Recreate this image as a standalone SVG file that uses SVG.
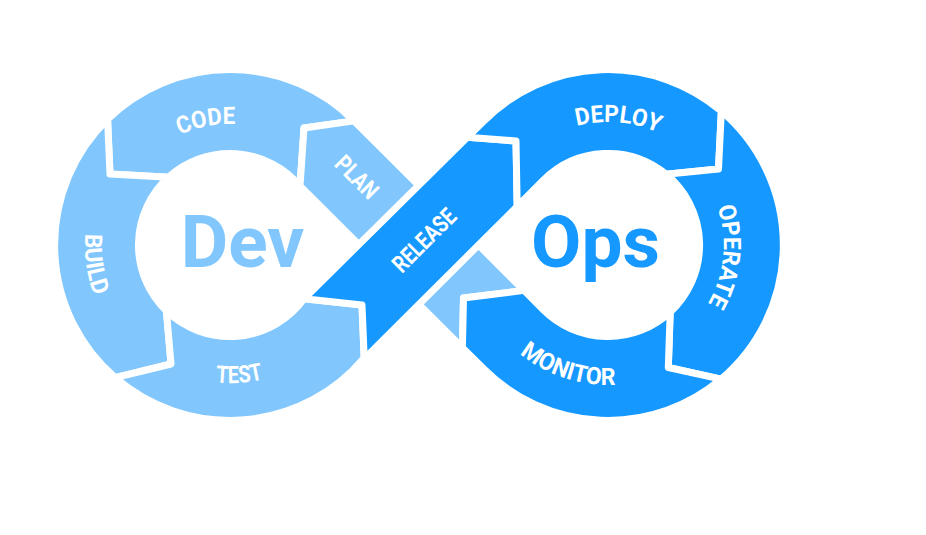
<svg xmlns="http://www.w3.org/2000/svg" xmlns:xlink="http://www.w3.org/1999/xlink" width="926" height="535" viewBox="0 0 926 535">
  <style>
    .light{fill:#81C7FD}
    .dark{fill:#1598FF}
    .seg{stroke:#FFFFFF;stroke-width:7;stroke-linejoin:round}
    .lbl{font-family:Roboto,"Liberation Sans",sans-serif;font-weight:700;font-size:24px;fill:#FFFFFF}
    .big{font-family:Roboto,"Liberation Sans",sans-serif;font-weight:700;font-size:73px}
  </style>
  <defs>
    <path id="pCode" d="M124.2,186.3 A121,121 0 0 1 306.1,151"/>
    <path id="pBuild" d="M122.2,148 A145,145 0 0 0 153.2,368"/>
    <path id="pTest" d="M130.6,341 A138.2,138.2 0 0 0 341.8,326.2"/>
    <path id="pDeploy" d="M520.6,158.5 A123,123 0 0 1 708.4,173.9"/>
    <path id="pOperate" d="M690.7,164 A115.8,115.8 0 0 1 673.4,340.5"/>
    <path id="pMonitor" d="M478.2,297.4 A140,140 0 0 0 682.2,363.7"/>
  </defs>
  <rect width="926" height="535" fill="#FFFFFF"/>

  <g id="code">
    <path class="light seg" d="M107.6,119.3 A175.5,175.5 0 0 1 354.1,120.9 L304,128 L300,186 A91.5,91.5 0 0 0 168.5,177.2 L110,174 Z"/>
    <text class="lbl" text-anchor="middle"><textPath xlink:href="#pCode" href="#pCode" startOffset="50%" textLength="57" lengthAdjust="spacingAndGlyphs">CODE</textPath></text>
  </g>
  <g id="build">
    <path class="light seg" d="M107.6,119.3 L110,174 L168.5,177.2 A91.5,91.5 0 0 0 166.4,310.8 L171,364 L115.3,377.7 A175.5,175.5 0 0 1 107.6,119.3 Z"/>
    <text class="lbl" text-anchor="middle"><textPath xlink:href="#pBuild" href="#pBuild" startOffset="50%" textLength="63" lengthAdjust="spacingAndGlyphs">BUILD</textPath></text>
  </g>
  <g id="test">
    <path class="light seg" d="M115.3,377.7 L171,364 L166.4,310.8 A91.5,91.5 0 0 0 304.1,298.7 L362,305 L364.2,358 A175.5,175.5 0 0 1 115.3,377.7 Z"/>
    <text class="lbl" text-anchor="middle"><textPath xlink:href="#pTest" href="#pTest" startOffset="50%" textLength="48" lengthAdjust="spacingAndGlyphs">TEST</textPath></text>
  </g>
  <g id="plan">
    <path class="light seg" d="M354.1,120.9 L524,290.4 L463.5,298 L462.4,347.7 L300,186 L304,128 Z"/>
    <text class="lbl" text-anchor="middle" transform="translate(357,177) rotate(45)" y="8.5" textLength="50" lengthAdjust="spacingAndGlyphs">PLAN</text>
  </g>
  <g id="release">
    <path class="dark seg" d="M364.2,358 L362,305 L304.1,298.7 L467.3,137.2 L516,141 L517.2,206.4 L354.1,369.1 A175.5,175.5 0 0 0 364.2,358 Z"/>
    <text class="lbl" text-anchor="middle" transform="translate(424,240) rotate(-45)" y="8.5" textLength="79" lengthAdjust="spacingAndGlyphs">RELEASE</text>
  </g>
  <g id="deploy">
    <path class="dark seg" d="M467.3,137.2 L483.9,120.9 A175.5,175.5 0 0 1 721.35,111.2 L718.5,169 L666.2,174.3 A91.5,91.5 0 0 0 543.3,180.3 L517.2,206.4 L516,141 Z"/>
    <text class="lbl" text-anchor="middle"><textPath xlink:href="#pDeploy" href="#pDeploy" startOffset="50%" textLength="83" lengthAdjust="spacingAndGlyphs">DEPLOY</textPath></text>
  </g>
  <g id="operate">
    <path class="dark seg" d="M721.35,111.2 A175.5,175.5 0 0 1 721,379.2 L668.3,367.5 L670.2,312.2 A91.5,91.5 0 0 0 666.2,174.3 L718.5,169 Z"/>
    <text class="lbl" text-anchor="middle"><textPath xlink:href="#pOperate" href="#pOperate" startOffset="50%" textLength="100" lengthAdjust="spacingAndGlyphs">OPERATE</textPath></text>
  </g>
  <g id="monitor">
    <path class="dark seg" d="M721,379.2 A175.5,175.5 0 0 1 483.9,369.1 L462.4,347.7 L463.5,298 L524,290.4 L543.3,309.7 A91.5,91.5 0 0 0 670.2,312.2 L668.3,367.5 Z"/>
    <text class="lbl" text-anchor="middle"><textPath xlink:href="#pMonitor" href="#pMonitor" startOffset="50%" textLength="103" lengthAdjust="spacingAndGlyphs">MONITOR</textPath></text>
  </g>

  <g id="dev">
    <text class="big" x="242.5" y="267" text-anchor="middle" fill="#81C7FD">Dev</text>
  </g>
  <g id="ops">
    <text class="big" x="595.5" y="267" text-anchor="middle" fill="#1598FF">Ops</text>
  </g>
</svg>
